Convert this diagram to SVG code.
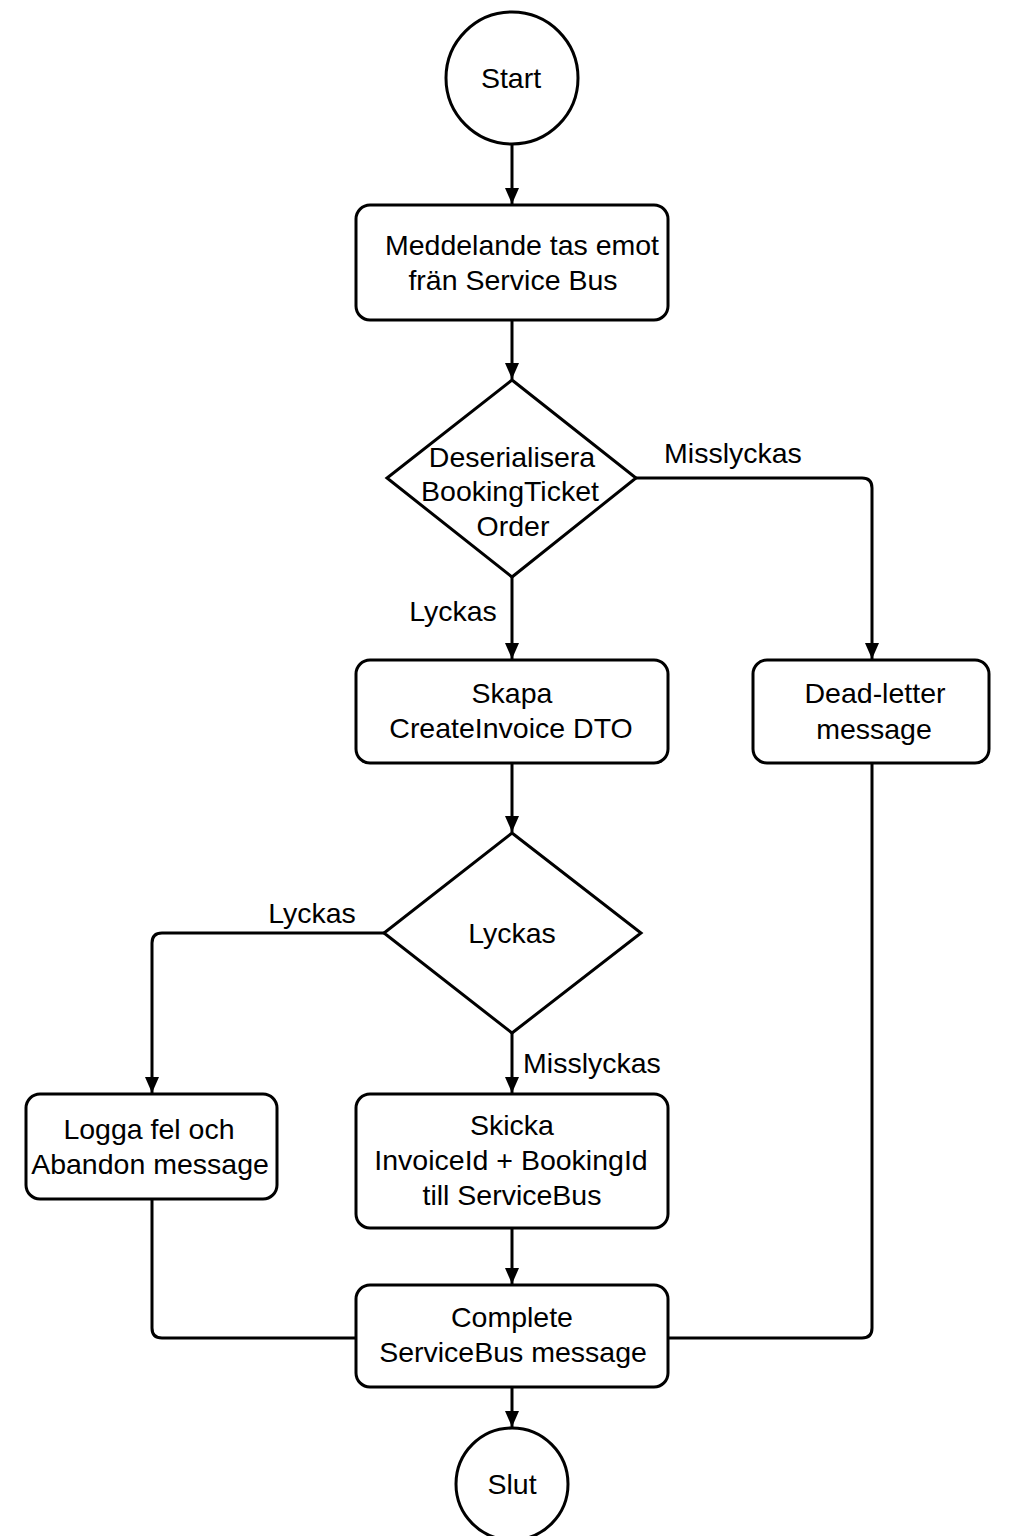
<svg xmlns="http://www.w3.org/2000/svg" width="1024" height="1536" viewBox="0 0 1024 1536">
  <style>
    .shape { fill: #ffffff; stroke: #000000; stroke-width: 3; }
    .conn { fill: none; stroke: #000000; stroke-width: 3; }
    .t { font-family: "Liberation Sans", Arial, sans-serif; font-size: 28.5px; fill: #000000; text-anchor: middle; }
  </style>
  <defs>
    <marker id="arrow" markerUnits="userSpaceOnUse" markerWidth="16" markerHeight="14" viewBox="0 0 16 14" refX="16" refY="7" orient="auto">
      <path d="M0,0 L16,7 L0,14 z" fill="#000000"/>
    </marker>
  </defs>
  <rect width="1024" height="1536" fill="#ffffff"/>

  <g id="connectors">
    <path class="conn" d="M512 144 V204" marker-end="url(#arrow)"/>
    <path class="conn" d="M512 320 V379" marker-end="url(#arrow)"/>
    <path class="conn" d="M512 577 V659" marker-end="url(#arrow)"/>
    <path class="conn" d="M636 478 H862 Q872 478 872 488 V659" marker-end="url(#arrow)"/>
    <path class="conn" d="M512 763 V832" marker-end="url(#arrow)"/>
    <path class="conn" d="M384 933 H162 Q152 933 152 943 V1093" marker-end="url(#arrow)"/>
    <path class="conn" d="M512 1033 V1093" marker-end="url(#arrow)"/>
    <path class="conn" d="M512 1228 V1284" marker-end="url(#arrow)"/>
    <path class="conn" d="M152 1199 V1328 Q152 1338 162 1338 H356"/>
    <path class="conn" d="M872 763 V1328 Q872 1338 862 1338 H668"/>
    <path class="conn" d="M512 1387 V1427" marker-end="url(#arrow)"/>
    <text class="t" x="733" y="463">Misslyckas</text>
    <text class="t" x="453" y="621">Lyckas</text>
    <text class="t" x="312" y="923">Lyckas</text>
    <text class="t" x="592" y="1073">Misslyckas</text>
  </g>

  <g id="start">
    <circle class="shape" cx="512" cy="78" r="66"/>
    <text class="t" x="511" y="88">Start</text>
  </g>

  <g id="receive">
    <rect class="shape" x="356" y="205" width="312" height="115" rx="14"/>
    <text class="t" x="522" y="255">Meddelande tas emot</text>
    <text class="t" x="513" y="290">frän Service Bus</text>
  </g>

  <g id="deserialize">
    <polygon class="shape" points="512,380 636,478 512,577 387,478"/>
    <text class="t" x="512" y="467">Deserialisera</text>
    <text class="t" x="510" y="501">BookingTicket</text>
    <text class="t" x="513" y="536">Order</text>
  </g>

  <g id="create-dto">
    <rect class="shape" x="356" y="660" width="312" height="103" rx="14"/>
    <text class="t" x="512" y="703">Skapa</text>
    <text class="t" x="511" y="738">CreateInvoice DTO</text>
  </g>

  <g id="dead-letter">
    <rect class="shape" x="753" y="660" width="236" height="103" rx="14"/>
    <text class="t" x="875" y="703">Dead-letter</text>
    <text class="t" x="874" y="739">message</text>
  </g>

  <g id="check">
    <polygon class="shape" points="512,833 641,933 512,1033 384,933"/>
    <text class="t" x="512" y="943">Lyckas</text>
  </g>

  <g id="log-abandon">
    <rect class="shape" x="26" y="1094" width="251" height="105" rx="14"/>
    <text class="t" x="149" y="1139">Logga fel och</text>
    <text class="t" x="150" y="1174">Abandon message</text>
  </g>

  <g id="send">
    <rect class="shape" x="356" y="1094" width="312" height="134" rx="14"/>
    <text class="t" x="512" y="1135">Skicka</text>
    <text class="t" x="511" y="1170">InvoiceId + BookingId</text>
    <text class="t" x="512" y="1205">till ServiceBus</text>
  </g>

  <g id="complete">
    <rect class="shape" x="356" y="1285" width="312" height="102" rx="14"/>
    <text class="t" x="512" y="1327">Complete</text>
    <text class="t" x="513" y="1362">ServiceBus message</text>
  </g>

  <g id="end">
    <circle class="shape" cx="512" cy="1484" r="56"/>
    <text class="t" x="512" y="1494">Slut</text>
  </g>
</svg>
